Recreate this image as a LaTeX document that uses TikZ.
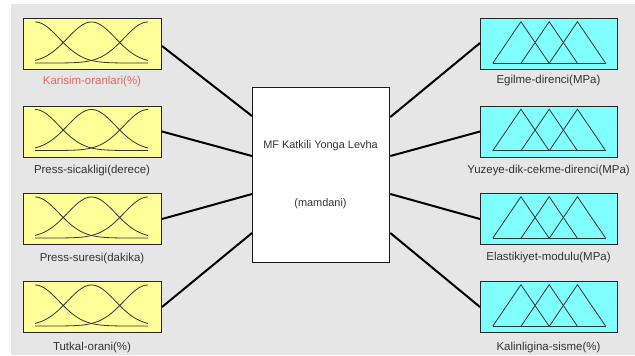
\documentclass[tikz,border=0pt]{standalone}
\usepackage{fontspec}
\setmainfont{Liberation Sans}
\usetikzlibrary{calc}
\definecolor{bgc}{HTML}{E6E6E6}
\definecolor{inyel}{HTML}{FFFF99}
\definecolor{outcyan}{HTML}{80FFFF}
\definecolor{lbl}{HTML}{333333}
\definecolor{lblred}{HTML}{E06666}
\newcommand\drawinmf[2]{%
  \draw[mf] plot[domain=0:1,samples=60,smooth] ({#1+113*\x},{#2+45-41*exp(-(\x*\x)/0.09)});
  \draw[mf] plot[domain=0:1,samples=60,smooth] ({#1+113*\x},{#2+45-41*exp(-((\x-0.5)*(\x-0.5))/0.09)});
  \draw[mf] plot[domain=0:1,samples=60,smooth] ({#1+113*\x},{#2+45-41*exp(-((\x-1)*(\x-1))/0.09)});
}
\newcommand\drawoutmf[2]{%
  \draw[mf] (#1,#2+45.3) -- (#1+28.25,#2+3.7) -- (#1+56.5,#2+45.3);
  \draw[mf] (#1+28.25,#2+45.3) -- (#1+56.5,#2+3.7) -- (#1+84.75,#2+45.3);
  \draw[mf] (#1+56.5,#2+45.3) -- (#1+84.75,#2+3.7) -- (#1+113,#2+45.3);
  \draw[mf] (#1,#2+45.3) -- (#1+113,#2+45.3);
}
\begin{document}
\begin{tikzpicture}[x=0.75pt,y=-0.75pt,
  inbox/.style={draw=black!85, fill=inyel, line width=0.75pt, minimum width=103.5pt, minimum height=38.25pt, inner sep=0pt, anchor=north west},
  outbox/.style={draw=black!85, fill=outcyan, line width=0.75pt, minimum width=102.75pt, minimum height=38.25pt, inner sep=0pt, anchor=north west},
  sysbox/.style={draw=black!90, fill=white, line width=1pt, minimum width=102.75pt, minimum height=131.25pt, inner sep=0pt, anchor=north west},
  lbltext/.style={font=\fontsize{8.6}{10}\selectfont, text=lbl, inner sep=0pt},
  systext/.style={font=\fontsize{8.2}{10}\selectfont, text=lbl, inner sep=0pt},
  conn/.style={line width=1.5pt, draw=black},
  mf/.style={line width=0.6pt, draw=black!80}]
\useasboundingbox (0,0) rectangle (635,355);
\fill[bgc] (11,4) rectangle (635,355);
% inputs
\node[inbox] (in1) at (23,18) {};
\node[inbox] (in2) at (23,105.5) {};
\node[inbox] (in3) at (23,193) {};
\node[inbox] (in4) at (23,281) {};
\drawinmf{35}{18}
\drawinmf{35}{105.5}
\drawinmf{35}{193}
\drawinmf{35}{281}
\node[lbltext, text=lblred] (lin1) at (92,82) {Karisim-oranlari(\%)};
\node[lbltext] (lin2) at (92,171) {Press-sicakligi(derece)};
\node[lbltext] (lin3) at (92,259) {Press-suresi(dakika)};
\node[lbltext] (lin4) at (92,347.5) {Tutkal-orani(\%)};
% outputs
\node[outbox] (out1) at (480,18) {};
\node[outbox] (out2) at (480,105.5) {};
\node[outbox] (out3) at (480,193) {};
\node[outbox] (out4) at (480,281) {};
\drawoutmf{492.7}{18}
\drawoutmf{492.7}{105.5}
\drawoutmf{492.7}{193}
\drawoutmf{492.7}{281}
\node[lbltext] (lout1) at (548.5,81) {Egilme-direnci(MPa)};
\node[lbltext] (lout2) at (548.5,171) {Yuzeye-dik-cekme-direnci(MPa)};
\node[lbltext] (lout3) at (548.5,258) {Elastikiyet-modulu(MPa)};
\node[lbltext] (lout4) at (548.5,347.5) {Kalinligina-sisme(\%)};
% system
\node[sysbox] (sys) at (252,87) {};
\node[systext] (systitle) at (320.5,146) {MF Katkili Yonga Levha};
\node[systext] (systype) at (320.5,204) {(mamdani)};
% connectors
\draw[conn] ($(in1.north east)+(0,28)$) -- ($(sys.north west)+(0,29)$);
\draw[conn] (in2.east) -- ($(sys.north west)+(0,69)$);
\draw[conn] (in3.east) -- ($(sys.north west)+(0,107)$);
\draw[conn] (in4.east) -- ($(sys.north west)+(0,146)$);
\draw[conn] ($(sys.north east)+(0,30)$) -- ($(out1.north west)+(0,25)$);
\draw[conn] ($(sys.north east)+(0,69)$) -- (out2.west);
\draw[conn] ($(sys.north east)+(0,107)$) -- (out3.west);
\draw[conn] ($(sys.north east)+(0,146)$) -- (out4.west);
\end{tikzpicture}
\end{document}
